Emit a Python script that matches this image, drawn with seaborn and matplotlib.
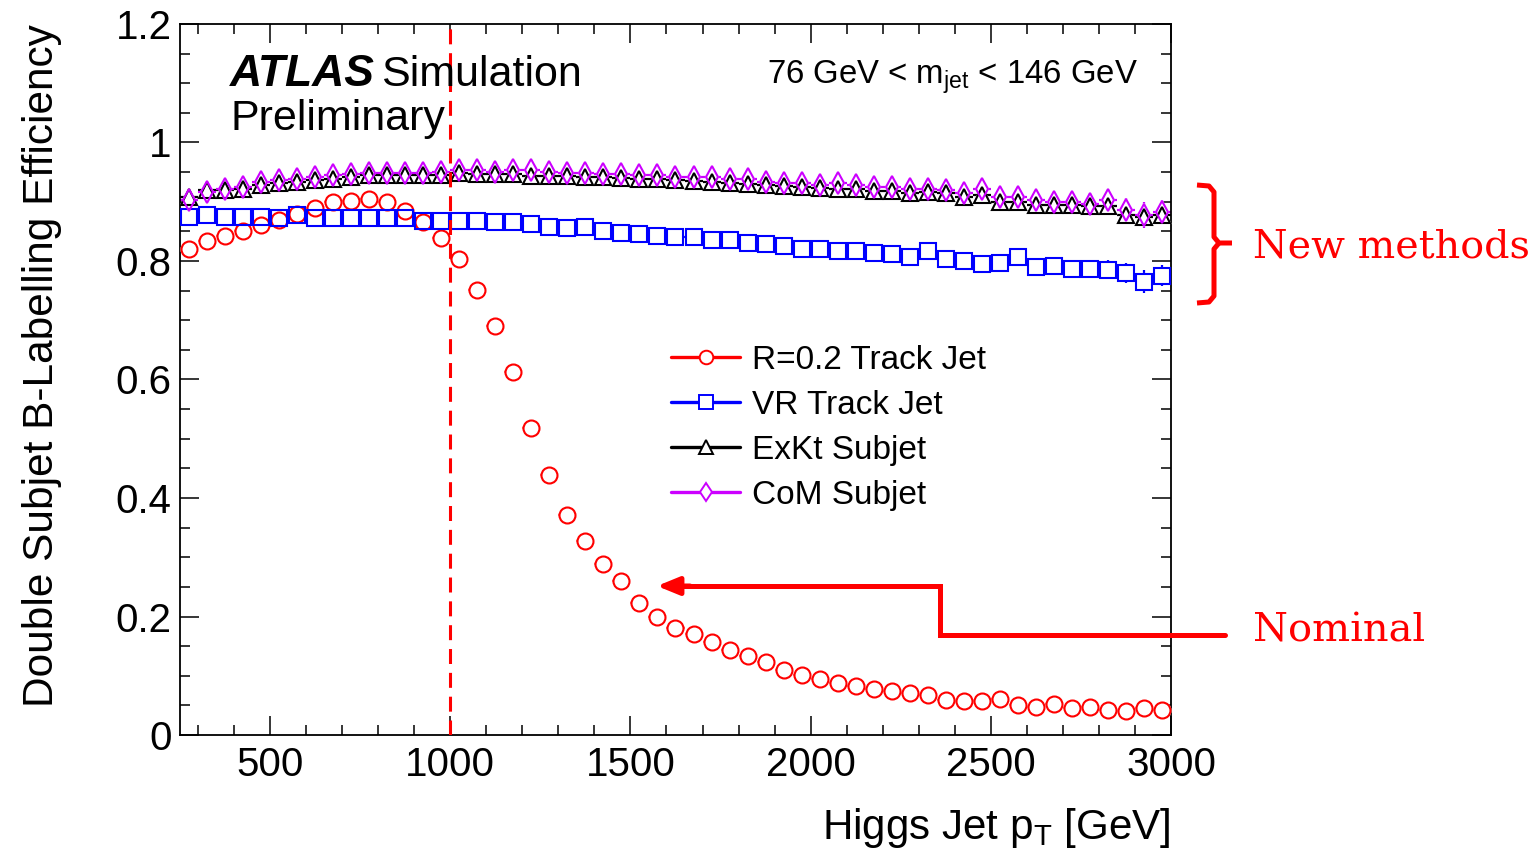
import matplotlib
matplotlib.use("Agg")
import matplotlib.pyplot as plt
from matplotlib.lines import Line2D
from matplotlib.ticker import MultipleLocator
import seaborn as sns

# ---------------- data ----------------
pt_bins = [275, 325, 375, 425, 475, 525, 575, 625, 675, 725, 775, 825, 875, 925, 975,
           1025, 1075, 1125, 1175, 1225, 1275, 1325, 1375, 1425, 1475, 1525, 1575, 1625,
           1675, 1725, 1775, 1825, 1875, 1925, 1975, 2025, 2075, 2125, 2175, 2225, 2275,
           2325, 2375, 2425, 2475, 2525, 2575, 2625, 2675, 2725, 2775, 2825, 2875, 2925, 2975]
bin_half_width = 25

eff_r02 = [0.821, 0.834, 0.842, 0.851, 0.861, 0.870, 0.880, 0.889, 0.900, 0.902, 0.904, 0.900,
           0.885, 0.865, 0.839, 0.803, 0.751, 0.690, 0.613, 0.518, 0.439, 0.372, 0.327, 0.288,
           0.260, 0.222, 0.200, 0.180, 0.170, 0.157, 0.144, 0.133, 0.123, 0.110, 0.102, 0.095,
           0.088, 0.083, 0.078, 0.075, 0.071, 0.067, 0.059, 0.058, 0.058, 0.060, 0.050, 0.048,
           0.052, 0.046, 0.048, 0.042, 0.040, 0.045, 0.042]
err_r02 = [0.003, 0.003, 0.003, 0.003, 0.003, 0.003, 0.003, 0.003, 0.003, 0.003, 0.003, 0.003,
           0.003, 0.003, 0.003, 0.003, 0.003, 0.003, 0.003, 0.003, 0.003, 0.003, 0.003, 0.003,
           0.003, 0.003, 0.003, 0.003, 0.003, 0.003, 0.003, 0.003, 0.003, 0.003, 0.003, 0.003,
           0.003, 0.003, 0.003, 0.003, 0.003, 0.003, 0.003, 0.003, 0.003, 0.003, 0.003, 0.003,
           0.003, 0.003, 0.003, 0.003, 0.003, 0.003, 0.003]

eff_vr = [0.875, 0.877, 0.875, 0.875, 0.875, 0.872, 0.878, 0.872, 0.872, 0.872, 0.872, 0.872,
          0.872, 0.868, 0.868, 0.868, 0.868, 0.865, 0.865, 0.863, 0.858, 0.855, 0.858, 0.850,
          0.848, 0.846, 0.842, 0.841, 0.840, 0.835, 0.836, 0.831, 0.829, 0.825, 0.821, 0.821,
          0.817, 0.817, 0.814, 0.812, 0.806, 0.817, 0.803, 0.800, 0.795, 0.796, 0.806, 0.790,
          0.791, 0.787, 0.787, 0.785, 0.780, 0.765, 0.775]
err_vr = [0.004, 0.004, 0.004, 0.004, 0.004, 0.004, 0.004, 0.004, 0.004, 0.004, 0.004, 0.004,
          0.004, 0.004, 0.004, 0.004, 0.004, 0.004, 0.005, 0.005, 0.005, 0.005, 0.005, 0.005,
          0.005, 0.006, 0.006, 0.006, 0.006, 0.006, 0.006, 0.007, 0.007, 0.007, 0.007, 0.008,
          0.008, 0.008, 0.009, 0.009, 0.009, 0.010, 0.010, 0.011, 0.011, 0.012, 0.013, 0.013,
          0.014, 0.014, 0.015, 0.016, 0.017, 0.019, 0.018]

eff_exkt = [0.908, 0.920, 0.920, 0.922, 0.928, 0.931, 0.934, 0.937, 0.939, 0.942, 0.945, 0.945,
            0.945, 0.945, 0.945, 0.948, 0.947, 0.947, 0.947, 0.944, 0.943, 0.943, 0.942, 0.941,
            0.940, 0.939, 0.938, 0.936, 0.935, 0.934, 0.932, 0.930, 0.928, 0.927, 0.925, 0.923,
            0.922, 0.922, 0.918, 0.918, 0.915, 0.916, 0.914, 0.908, 0.911, 0.900, 0.900, 0.895,
            0.895, 0.895, 0.892, 0.892, 0.878, 0.875, 0.878]
err_exkt = [0.003, 0.003, 0.003, 0.003, 0.003, 0.003, 0.003, 0.003, 0.003, 0.003, 0.003, 0.003,
            0.003, 0.003, 0.003, 0.003, 0.003, 0.003, 0.003, 0.004, 0.004, 0.004, 0.004, 0.004,
            0.004, 0.005, 0.005, 0.005, 0.005, 0.005, 0.005, 0.006, 0.006, 0.006, 0.006, 0.007,
            0.007, 0.007, 0.008, 0.008, 0.008, 0.009, 0.009, 0.009, 0.010, 0.010, 0.011, 0.011,
            0.012, 0.012, 0.013, 0.013, 0.014, 0.015, 0.015]

eff_com = [0.903, 0.917, 0.922, 0.925, 0.934, 0.937, 0.939, 0.942, 0.945, 0.947, 0.948, 0.949,
           0.949, 0.949, 0.951, 0.954, 0.953, 0.951, 0.954, 0.953, 0.951, 0.949, 0.949, 0.947,
           0.947, 0.945, 0.945, 0.942, 0.942, 0.942, 0.939, 0.938, 0.934, 0.932, 0.931, 0.928,
           0.931, 0.929, 0.925, 0.925, 0.922, 0.921, 0.920, 0.914, 0.921, 0.908, 0.908, 0.903,
           0.900, 0.900, 0.897, 0.903, 0.886, 0.878, 0.883]
err_com = [0.003, 0.003, 0.003, 0.003, 0.003, 0.003, 0.003, 0.003, 0.003, 0.003, 0.003, 0.003,
           0.003, 0.003, 0.003, 0.003, 0.003, 0.003, 0.004, 0.004, 0.004, 0.004, 0.004, 0.004,
           0.005, 0.005, 0.005, 0.005, 0.005, 0.006, 0.006, 0.006, 0.006, 0.007, 0.007, 0.007,
           0.008, 0.008, 0.008, 0.009, 0.009, 0.010, 0.010, 0.011, 0.011, 0.012, 0.013, 0.014,
           0.015, 0.016, 0.017, 0.018, 0.020, 0.022, 0.020]

series_labels = ["R=0.2 Track Jet", "VR Track Jet", "ExKt Subjet", "CoM Subjet"]
series_colors = ["#ff0000", "#0000ff", "#000000", "#cc00ff"]
series_markers = ["o", "s", "^", "d"]
series_sizes = [11.5, 12.0, 11.5, 11.0]

x_ticks = [500, 1000, 1500, 2000, 2500, 3000]
y_ticks = [0, 0.2, 0.4, 0.6, 0.8, 1.0, 1.2]
y_tick_labels = ["0", "0.2", "0.4", "0.6", "0.8", "1", "1.2"]
cut_value = 1000

# ---------------- style ----------------
sns.set_theme(style="ticks")
plt.rcParams["font.family"] = ["Liberation Sans", "DejaVu Sans"]
plt.rcParams["mathtext.fontset"] = "custom"
plt.rcParams["mathtext.rm"] = "Liberation Sans"
plt.rcParams["mathtext.it"] = "Liberation Sans:italic"
plt.rcParams["mathtext.bf"] = "Liberation Sans:bold"
for key in ["text.color", "axes.labelcolor", "xtick.color", "ytick.color",
            "axes.edgecolor", "legend.labelcolor"]:
    plt.rcParams[key] = "black"

W, H = 1536, 860
fig = plt.figure(figsize=(W / 100, H / 100), dpi=100)
fig.patch.set_facecolor("white")
ax = fig.add_axes([180 / W, (H - 735) / H, 991 / W, 711 / H])
ax.set_facecolor("white")

effs = [eff_r02, eff_vr, eff_exkt, eff_com]
errs = [err_r02, err_vr, err_exkt, err_com]

# error bars (bin width horizontally)
for eff, err, c in zip(effs, errs, series_colors):
    ax.errorbar(pt_bins, eff, xerr=bin_half_width, yerr=err, fmt="none",
                ecolor=c, elinewidth=1.6, capsize=0, zorder=2)

# white masks so error lines do not cross inside the open markers
for eff, m, ms in zip(effs, series_markers, series_sizes):
    sns.lineplot(x=pt_bins, y=eff, ax=ax, marker=m, linestyle="", markersize=ms,
                 markerfacecolor="white", markeredgecolor="white", markeredgewidth=1.5,
                 errorbar=None, zorder=3)

# open markers
for eff, c, m, ms in zip(effs, series_colors, series_markers, series_sizes):
    sns.lineplot(x=pt_bins, y=eff, ax=ax, marker=m, linestyle="", markersize=ms,
                 markerfacecolor="none", markeredgecolor=c, markeredgewidth=1.5,
                 errorbar=None, zorder=4)

# vertical dashed line at 1000 GeV
ax.axvline(cut_value, color="#ff0000", lw=2.2, dashes=(4.9, 2.9), zorder=5)

ax.set_xlim(250, 3000)
ax.set_ylim(0, 1.2)
ax.set_xticks(x_ticks)
ax.set_yticks(y_ticks)
ax.set_yticklabels(y_tick_labels)
ax.xaxis.set_minor_locator(MultipleLocator(100))
ax.yaxis.set_minor_locator(MultipleLocator(0.05))
ax.tick_params(which="both", direction="in", top=True, right=True, width=1.1,
               colors="black", labelsize=29)
ax.tick_params(which="major", length=14)
ax.tick_params(which="minor", length=7)
ax.tick_params(axis="x", which="major", pad=8)
ax.tick_params(axis="y", which="major", pad=6)
for s in ax.spines.values():
    s.set_linewidth(1.3)
    s.set_color("black")

ax.set_xlabel(r"Higgs Jet p$_{\mathrm{T}}$ [GeV]", fontsize=30.3, loc="right", color="black")
ax.xaxis.set_label_coords(1.0, -(828 - 735) / 711)
ax.xaxis.label.set_va("center")
ax.set_ylabel("Double Subjet B-Labelling Efficiency", fontsize=30.5, loc="top", color="black")
ax.yaxis.set_label_coords((42 - 180) / 991, 1.0)
ax.yaxis.label.set_va("center")

def fx(px):
    return px / W

def fy(py):
    return 1 - py / H

# ATLAS label
fig.text(fx(230), fy(86), "ATLAS", fontsize=32, fontweight="bold", style="italic",
         ha="left", va="baseline", color="black")
fig.text(fx(381), fy(86), "Simulation", fontsize=31, ha="left", va="baseline", color="black")
fig.text(fx(230), fy(130), "Preliminary", fontsize=31, ha="left", va="baseline", color="black")
fig.text(fx(1138), fy(84), r"76 GeV < m$_{\mathrm{jet}}$ < 146 GeV", fontsize=23.7,
         ha="right", va="baseline", color="black")

# legend
handles = [Line2D([], [], color=c, lw=2.4, marker=m, markersize=ms * 0.85,
                  markerfacecolor="white", markeredgecolor=c, markeredgewidth=1.4)
           for c, m, ms in zip(series_colors, series_markers, series_sizes)]
leg = ax.legend(handles, series_labels, loc="upper left",
                bbox_to_anchor=(fx(671), fy(345)), bbox_transform=fig.transFigure,
                frameon=False, fontsize=24, handlelength=2.08, handletextpad=0.36,
                labelspacing=0.42, borderaxespad=0, borderpad=0)
for txt in leg.get_texts():
    txt.set_color("black")

# annotations outside / over the plot
red = "#ff0000"
upper = [(1197, 185), (1209, 186), (1214, 192), (1214, 237), (1219, 243), (1232, 243)]
lower = [(1219, 243), (1214, 249), (1214, 296), (1209, 302), (1197, 303)]
for pts in (upper, lower):
    fig.add_artist(Line2D([fx(p[0]) for p in pts], [fy(p[1]) for p in pts],
                          color=red, lw=3.6, solid_joinstyle="round",
                          solid_capstyle="butt", transform=fig.transFigure))
fig.text(fx(1253), fy(258), "New methods", fontsize=28.5, color=red,
         family=["DejaVu Serif"], ha="left", va="baseline")

arrow_path = [(1225, 635), (940, 635), (940, 586), (676, 586)]
fig.add_artist(Line2D([fx(p[0]) for p in arrow_path], [fy(p[1]) for p in arrow_path],
                      color=red, lw=3.6, solid_joinstyle="miter",
                      transform=fig.transFigure))
ax.annotate("", xy=(fx(657), fy(586)), xycoords="figure fraction",
            xytext=(fx(690), fy(586)), textcoords="figure fraction",
            arrowprops=dict(arrowstyle="-|>,head_length=1.1,head_width=0.45",
                            color=red, lw=3.6, shrinkA=0, shrinkB=0),
            annotation_clip=False)
fig.text(fx(1253), fy(642), "Nominal", fontsize=28.8, color=red,
         family=["DejaVu Serif"], ha="left", va="baseline")

fig.savefig("out.png", dpi=100, facecolor="white")
